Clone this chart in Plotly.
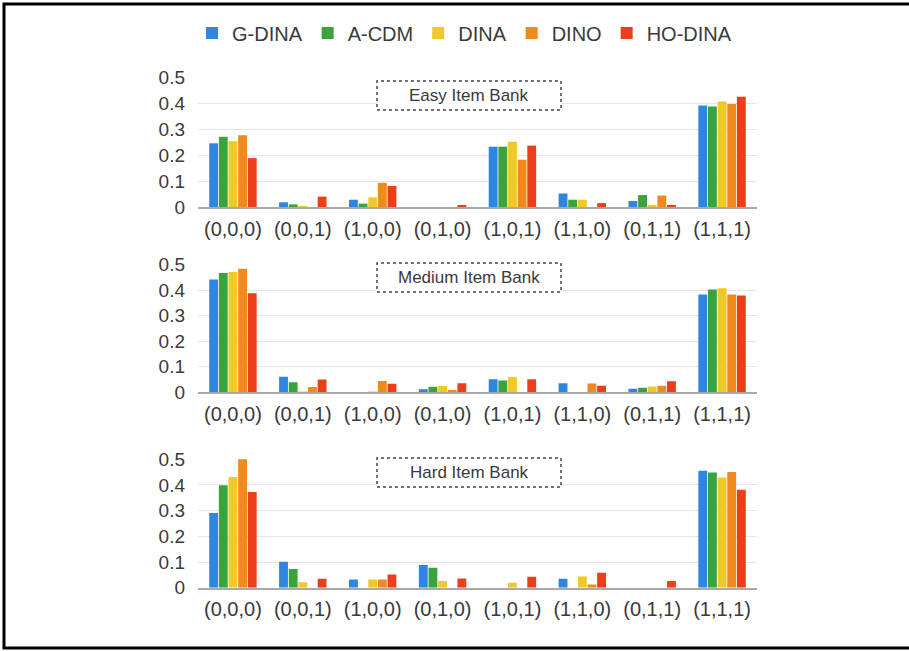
import plotly.graph_objects as go

categories = ["(0,0,0)", "(0,0,1)", "(1,0,0)", "(0,1,0)", "(1,0,1)", "(1,1,0)", "(0,1,1)", "(1,1,1)"]
models = ["G-DINA", "A-CDM", "DINA", "DINO", "HO-DINA"]
colors = ["#2f86e0", "#3ba33b", "#f0c82a", "#f08a1e", "#ea3f1a"]
panel_titles = ["Easy Item Bank", "Medium Item Bank", "Hard Item Bank"]

easy_gdina = [0.245, 0.018, 0.028, 0.0, 0.232, 0.052, 0.023, 0.390]
easy_acdm = [0.270, 0.010, 0.013, 0.0, 0.232, 0.028, 0.046, 0.387]
easy_dina = [0.253, 0.003, 0.037, 0.0, 0.251, 0.028, 0.008, 0.406]
easy_dino = [0.276, 0.0, 0.093, 0.0, 0.182, 0.0, 0.044, 0.396]
easy_hodina = [0.188, 0.040, 0.081, 0.004, 0.236, 0.015, 0.004, 0.424]

medium_gdina = [0.441, 0.061, 0.0, 0.012, 0.051, 0.035, 0.014, 0.383]
medium_acdm = [0.467, 0.039, 0.0, 0.022, 0.046, 0.0, 0.018, 0.402]
medium_dina = [0.471, 0.003, 0.003, 0.025, 0.060, 0.0, 0.023, 0.407]
medium_dino = [0.483, 0.021, 0.044, 0.009, 0.0, 0.034, 0.026, 0.383]
medium_hodina = [0.388, 0.050, 0.033, 0.035, 0.051, 0.026, 0.043, 0.379]

hard_gdina = [0.291, 0.101, 0.032, 0.088, 0.0, 0.035, 0.0, 0.455]
hard_acdm = [0.399, 0.073, 0.0, 0.078, 0.0, 0.0, 0.0, 0.449]
hard_dina = [0.431, 0.021, 0.032, 0.026, 0.019, 0.044, 0.0, 0.429]
hard_dino = [0.501, 0.0, 0.032, 0.0, 0.0, 0.012, 0.0, 0.451]
hard_hodina = [0.373, 0.035, 0.051, 0.036, 0.043, 0.058, 0.026, 0.381]

panels = [
    [easy_gdina, easy_acdm, easy_dina, easy_dino, easy_hodina],
    [medium_gdina, medium_acdm, medium_dina, medium_dino, medium_hodina],
    [hard_gdina, hard_acdm, hard_dina, hard_dino, hard_hodina],
]

y_ticks = [0, 0.1, 0.2, 0.3, 0.4, 0.5]
y_ticktext = ["0", "0.1", "0.2", "0.3", "0.4", "0.5"]

W, H = 909, 651
FONT = "Liberation Sans, Arial, sans-serif"
TXT = "#3a3a3a"

# pixel layout of each panel: (top px of 0.5, bottom px of 0)
panel_px = [(77, 207), (264.5, 392.3), (459.3, 587.7)]
x_left, x_right = 198, 757
box_px = [(81, 110), (263, 292), (458, 487)]
box_x = (377, 561)

fig = go.Figure()
for p, series in enumerate(panels):
    ax = "" if p == 0 else str(p + 1)
    for m, vals in enumerate(series):
        fig.add_trace(go.Bar(
            x=categories, y=vals, name=models[m],
            marker=dict(color=colors[m], line=dict(width=0)),
            xaxis="x" + ax, yaxis="y" + ax,
            showlegend=(p == 0), cliponaxis=False,
            legendgroup=models[m],
        ))

layout = dict(
    width=W, height=H, autosize=False,
    margin=dict(l=0, r=0, t=0, b=0, pad=0),
    paper_bgcolor="white", plot_bgcolor="white",
    barmode="group", bargap=0.31, bargroupgap=0.08,
    font=dict(family=FONT, color=TXT, size=18),
    legend=dict(orientation="h", x=0.511, xanchor="center", y=1 - 33 / H, yanchor="middle",
                font=dict(size=20, color=TXT), bgcolor="rgba(0,0,0,0)"),
    shapes=[], annotations=[],
)
for p in range(3):
    ax = "" if p == 0 else str(p + 1)
    top, bot = panel_px[p]
    layout["xaxis" + ax] = dict(
        domain=[x_left / W, x_right / W], anchor="y" + ax,
        showline=True, linecolor="#a8a8a8", linewidth=1.5,
        showgrid=False, ticks="", ticklabelstandoff=3, automargin=False,
        tickfont=dict(size=20, color=TXT), fixedrange=True,
    )
    layout["yaxis" + ax] = dict(
        domain=[1 - bot / H, 1 - top / H], anchor="x" + ax,
        range=[0, 0.5], tickvals=y_ticks, ticktext=y_ticktext,
        showgrid=True, gridcolor="#e6e6e6", gridwidth=1, automargin=False,
        zeroline=False, showline=False, ticks="", ticklabelstandoff=12,
        tickfont=dict(size=19, color=TXT), fixedrange=True,
    )
    b0, b1 = box_px[p]
    layout["shapes"].append(dict(
        type="rect", xref="paper", yref="paper",
        x0=box_x[0] / W, x1=box_x[1] / W, y0=1 - b1 / H, y1=1 - b0 / H,
        line=dict(color="#444444", width=1.5, dash="dot"), fillcolor="white", layer="above",
    ))
    layout["annotations"].append(dict(
        xref="paper", yref="paper", x=(box_x[0] + box_x[1]) / 2 / W, y=1 - (b0 + b1) / 2 / H,
        text=panel_titles[p], showarrow=False, xanchor="center", yanchor="middle",
        font=dict(size=17, color=TXT),
    ))

# outer frame
layout["shapes"].append(dict(
    type="rect", xref="paper", yref="paper",
    x0=4 / W, x1=912 / W, y0=1 - 648 / H, y1=1 - 4 / H,
    line=dict(color="black", width=3), fillcolor="rgba(0,0,0,0)", layer="above",
))

fig.update_layout(**layout)
fig.write_html(
    "out.html",
    config={"displayModeBar": False},
    post_script="document.body.style.margin='0';document.body.style.overflow='hidden';",
)
